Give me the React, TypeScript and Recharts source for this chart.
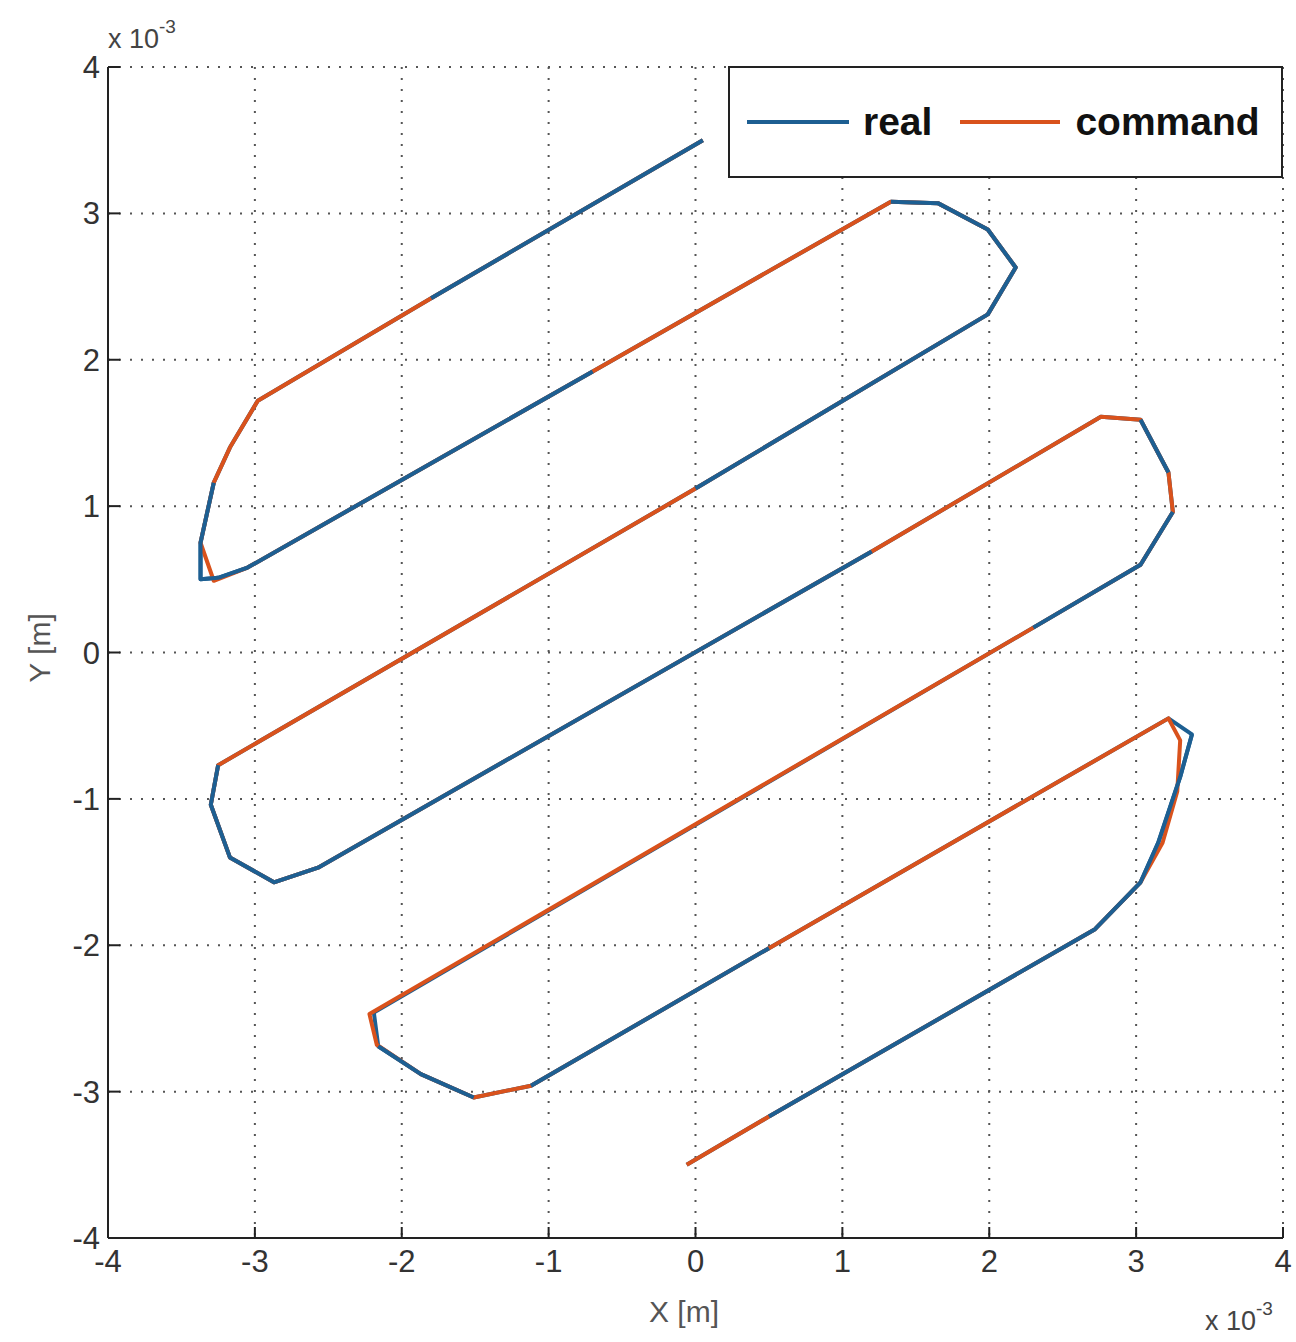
import { CartesianGrid, Scatter, ScatterChart, XAxis, YAxis } from "recharts";

// trajectory vertices in units of 1e-3 m, [x, y]
const realPath: [number, number][] = [
  [0.05, 3.5],
  [-1.8, 2.42],
  [-2.98, 1.72],
  [-3.17, 1.4],
  [-3.28, 1.16],
  [-3.37, 0.75],
  [-3.37, 0.5],
  [-3.25, 0.51],
  [-3.05, 0.58],
  [-0.7, 1.92],
  [1.33, 3.08],
  [1.65, 3.07],
  [1.99, 2.89],
  [2.18, 2.63],
  [1.99, 2.31],
  [0.0, 1.12],
  [-3.25, -0.77],
  [-3.3, -1.04],
  [-3.17, -1.4],
  [-2.87, -1.57],
  [-2.57, -1.47],
  [1.2, 0.69],
  [2.76, 1.61],
  [3.03, 1.59],
  [3.22, 1.23],
  [3.25, 0.96],
  [3.03, 0.6],
  [2.3, 0.17],
  [-2.19, -2.46],
  [-2.16, -2.69],
  [-1.87, -2.88],
  [-1.51, -3.04],
  [-1.12, -2.96],
  [0.5, -2.02],
  [3.22, -0.45],
  [3.38, -0.56],
  [3.3, -0.85],
  [3.15, -1.3],
  [3.03, -1.57],
  [2.72, -1.89],
  [0.5, -3.17],
  [-0.06, -3.5],
];

const commandPath: [number, number][] = [
  [0.05, 3.5],
  [-1.8, 2.42],
  [-2.98, 1.72],
  [-3.17, 1.4],
  [-3.28, 1.16],
  [-3.37, 0.75],
  [-3.28, 0.49],
  [-3.05, 0.58],
  [-0.7, 1.92],
  [1.33, 3.08],
  [1.65, 3.07],
  [1.99, 2.89],
  [2.18, 2.63],
  [1.99, 2.31],
  [0.0, 1.12],
  [-3.25, -0.77],
  [-3.3, -1.04],
  [-3.17, -1.4],
  [-2.87, -1.57],
  [-2.57, -1.47],
  [1.2, 0.69],
  [2.76, 1.61],
  [3.03, 1.59],
  [3.22, 1.23],
  [3.25, 0.96],
  [3.03, 0.6],
  [2.3, 0.17],
  [-2.22, -2.47],
  [-2.17, -2.68],
  [-1.87, -2.88],
  [-1.51, -3.04],
  [-1.12, -2.96],
  [0.5, -2.02],
  [3.22, -0.45],
  [3.3, -0.6],
  [3.28, -0.95],
  [3.18, -1.3],
  [3.03, -1.57],
  [2.72, -1.89],
  [0.5, -3.17],
  [-0.06, -3.5],
];

// stretches of the real trace that sit on top of the command trace
const realOnTop: [number, number][] = [
  [0, 2],
  [4, 10],
  [10, 16],
  [16, 22],
  [23, 25],
  [25, 28],
  [29, 32],
  [32, 34],
  [35, 41],
];

const axisTicks = [-4, -3, -2, -1, 0, 1, 2, 3, 4];

const BLUE = "#1d5f92";
const RED = "#d9521c";
const FONT = "'Liberation Sans', Arial, Helvetica, sans-serif";
const LINE_W = 4;

const toPoints = (path: [number, number][]) => path.map(([x, y]) => ({ x, y }));

const NoDot = () => <g />;

function YTick(props: any) {
  const { x, y, payload } = props;
  return (
    <g>
      <text x={x} y={y} dy={11} textAnchor="end" fontSize={31} fill="#333" fontFamily={FONT}>
        {payload.value}
      </text>
      <line x1={x + 8} x2={x + 20} y1={y} y2={y} stroke="#222" strokeWidth={2} />
    </g>
  );
}

function XTick(props: any) {
  const { x, y, payload } = props;
  return (
    <g>
      <text x={x} y={y} dy={26} textAnchor="middle" fontSize={31} fill="#333" fontFamily={FONT}>
        {payload.value}
      </text>
      <line x1={x} x2={x} y1={y - 8} y2={y - 19} stroke="#222" strokeWidth={2} />
    </g>
  );
}

function Exponent({ left, top }: { left: number; top: number }) {
  return (
    <div style={{ position: "absolute", left, top, fontFamily: FONT, color: "#444", whiteSpace: "nowrap" }}>
      <span style={{ fontSize: 27 }}>x 10</span>
      <span style={{ fontSize: 19, position: "relative", top: -15 }}>-3</span>
    </div>
  );
}

export default function App() {
  const real = toPoints(realPath);
  const command = toPoints(commandPath);

  return (
    <div style={{ position: "absolute", left: 0, top: 0, width: 1296, height: 1342, background: "#fff" }}>
      <ScatterChart width={1296} height={1342} margin={{ top: 67, right: 13, bottom: 64, left: 48 }}>
        <CartesianGrid stroke="#555" strokeDasharray="2 9" strokeWidth={2} />
        <XAxis
          type="number"
          dataKey="x"
          domain={[-4, 4]}
          ticks={axisTicks}
          height={40}
          tickSize={0}
          tickMargin={8}
          tick={<XTick />}
          axisLine={{ stroke: "#222", strokeWidth: 2 }}
          allowDataOverflow
        />
        <YAxis
          type="number"
          dataKey="y"
          domain={[-4, 4]}
          ticks={axisTicks}
          width={60}
          tickSize={0}
          tickMargin={8}
          tick={<YTick />}
          axisLine={{ stroke: "#222", strokeWidth: 2 }}
          allowDataOverflow
        />
        <Scatter
          name="real"
          data={real}
          fill={BLUE}
          line={{ stroke: BLUE, strokeWidth: LINE_W, strokeLinejoin: "round" }}
          shape={NoDot}
          isAnimationActive={false}
        />
        <Scatter
          name="command"
          data={command}
          fill={RED}
          line={{ stroke: RED, strokeWidth: LINE_W, strokeLinejoin: "round" }}
          shape={NoDot}
          isAnimationActive={false}
        />
        {realOnTop.map(([from, to]) => (
          <Scatter
            key={`real-${from}`}
            data={real.slice(from, to)}
            fill={BLUE}
            line={{ stroke: BLUE, strokeWidth: LINE_W, strokeLinejoin: "round" }}
            shape={NoDot}
            legendType="none"
            isAnimationActive={false}
          />
        ))}
      </ScatterChart>

      {/* legend box */}
      <div
        style={{
          position: "absolute",
          left: 728,
          top: 66,
          width: 551,
          height: 108,
          border: "2px solid #222",
          background: "#fff",
          display: "flex",
          alignItems: "center",
          fontFamily: FONT,
          fontWeight: "bold",
          fontSize: 39,
          color: "#111",
        }}
      >
        <div style={{ width: 102, height: 4, background: BLUE, marginLeft: 17 }} />
        <span style={{ marginLeft: 14 }}>real</span>
        <div style={{ width: 100, height: 4, background: RED, marginLeft: 28 }} />
        <span style={{ marginLeft: 15 }}>command</span>
      </div>

      <Exponent left={108} top={24} />
      <Exponent left={1205} top={1306} />

      <div
        style={{
          position: "absolute",
          left: 684,
          top: 1312,
          transform: "translate(-50%, -50%)",
          fontFamily: FONT,
          fontSize: 30,
          color: "#555",
          whiteSpace: "nowrap",
        }}
      >
        X [m]
      </div>
      <div
        style={{
          position: "absolute",
          left: 40,
          top: 648,
          transform: "translate(-50%, -50%) rotate(-90deg)",
          fontFamily: FONT,
          fontSize: 30,
          color: "#555",
          whiteSpace: "nowrap",
        }}
      >
        Y [m]
      </div>
    </div>
  );
}
